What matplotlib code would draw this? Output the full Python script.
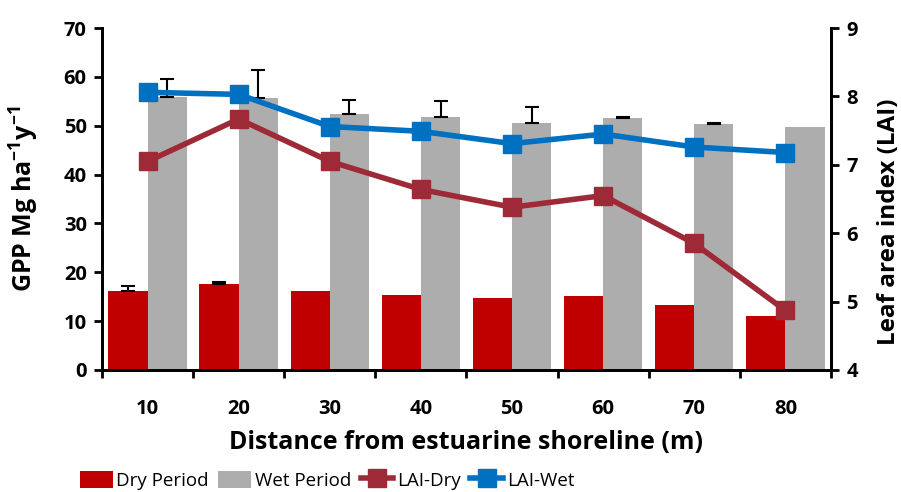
import numpy as np
import matplotlib
matplotlib.use("Agg")
import matplotlib.pyplot as plt

plt.rcParams['font.family'] = ['Open Sans', 'DejaVu Sans']
plt.rcParams['font.weight'] = 'bold'
plt.rcParams['mathtext.default'] = 'regular'

distance = ['10', '20', '30', '40', '50', '60', '70', '80']
gpp_dry = [16.2, 17.6, 16.2, 15.3, 14.7, 15.1, 13.4, 11.1]
gpp_dry_err = [1.0, 0.5, 0, 0, 0, 0, 0, 0]
gpp_wet = [55.8, 55.6, 52.4, 51.8, 50.6, 51.6, 50.3, 49.7]
gpp_wet_err = [3.7, 5.9, 2.8, 3.3, 3.3, 0.2, 0.2, 0]
lai_dry = [7.05, 7.67, 7.05, 6.64, 6.38, 6.55, 5.85, 4.87]
lai_wet = [8.06, 8.03, 7.56, 7.49, 7.31, 7.45, 7.26, 7.18]

x = np.arange(len(distance))
w = 0.43

fig = plt.figure(figsize=(9.01, 4.92), dpi=100)
ax = fig.add_axes([0.1132, 0.248, 0.8091, 0.695])
ax2 = ax.twinx()

b1 = ax.bar(x - w / 2, gpp_dry, w, color='#C00000')
b2 = ax.bar(x + w / 2, gpp_wet, w, color='#ADADAD')

# only upward error bars, skip the zero ones
for offs, vals, errs in [(-w / 2, gpp_dry, gpp_dry_err), (w / 2, gpp_wet, gpp_wet_err)]:
    idx = [i for i in range(len(x)) if errs[i] > 0]
    ax.errorbar(x[idx] + offs, [vals[i] for i in idx],
                yerr=[[0] * len(idx), [errs[i] for i in idx]],
                fmt='none', ecolor='black', capsize=5, elinewidth=1.5, capthick=1.5)

l1, = ax2.plot(x, lai_dry, color='#9E2A37', lw=4, marker='s', ms=13)
l2, = ax2.plot(x, lai_wet, color='#0070C0', lw=4, marker='s', ms=13)

ax.set_xlim(-0.5, len(x) - 0.5)
ax.set_ylim(0, 70)
ax.set_yticks(range(0, 71, 10))
ax2.set_ylim(4, 9)
ax2.set_yticks(range(4, 10))

ax.set_xticks(x)
ax.set_xticklabels(distance)
ax.set_xticks(np.arange(-0.5, len(x), 1), minor=True)
ax.tick_params(axis='x', which='major', length=0, pad=21, labelsize=14.5)
ax.tick_params(axis='x', which='minor', length=6, width=2, direction='out')
ax.tick_params(axis='y', length=6, width=2, direction='out', labelsize=14.5, pad=5)
ax2.tick_params(axis='y', length=6, width=2, direction='out', labelsize=14.5, pad=5)

for a in (ax, ax2):
    a.spines['top'].set_visible(False)
    for s in ('left', 'right', 'bottom'):
        a.spines[s].set_linewidth(2)

ax.set_xlabel('Distance from estuarine shoreline (m)', fontsize=18, fontweight='bold', labelpad=8)
ax.set_ylabel('GPP Mg ha$^{-1}$y$^{-1}$', fontsize=18, fontweight='bold')
ax2.set_ylabel('Leaf area index (LAI)', fontsize=17.5, fontweight='bold')
ax.yaxis.set_label_coords(-0.083, 0.5)
ax2.yaxis.set_label_coords(1.063, 0.433)

fig.legend([b1, b2, l1, l2], ['Dry Period', 'Wet Period', 'LAI-Dry', 'LAI-Wet'],
           loc='lower center', bbox_to_anchor=(0.363, -0.03), ncol=4, frameon=False,
           prop=dict(family='Open Sans', weight='normal', size=13.5),
           handlelength=1.75, handleheight=1.0, columnspacing=0.5, handletextpad=0.2)

fig.savefig('out.png', dpi=100)
